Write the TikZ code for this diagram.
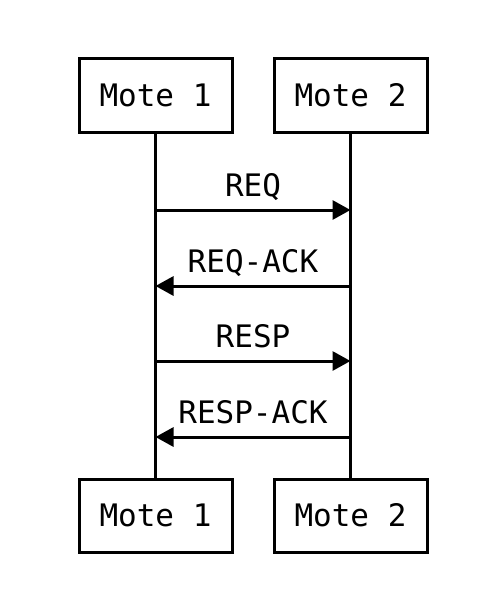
\documentclass[tikz,border=0pt]{standalone}
\usepackage{fontspec}
\usepackage{tikz}
\usetikzlibrary{arrows.meta}
\newfontfamily\motefont{DejaVu Sans Mono}

\tikzset{
  motebox/.style={draw=black,fill=white,line width=3pt,minimum width=153pt,minimum height=73pt,inner sep=0pt,font=\motefont\fontsize{31}{36}\selectfont},
  msglbl/.style={anchor=base,inner sep=0pt,font=\motefont\fontsize{31}{36}\selectfont},
  msg/.style={black,line width=3pt,-{Triangle[length=18pt,width=19pt]}}
}

\begin{document}
\begin{tikzpicture}[x=1pt,y=-1pt]
\useasboundingbox (0,0) rectangle (496,602);

\node[motebox] (m1top) at (155.5,95.5) {Mote 1};
\node[motebox] (m2top) at (350.5,95.5) {Mote 2};
\node[motebox] (m1bot) at (155.5,515.5) {Mote 1};
\node[motebox] (m2bot) at (350.5,515.5) {Mote 2};

% lifelines
\draw [black, line width = 3pt] (m1top) -- (m1bot);
\draw [black, line width = 3pt] (m2top) -- (m2bot);

\coordinate (req1) at (155.5,210);
\coordinate (req2) at (350.5,210);
\coordinate (ack1) at (155.5,286);
\coordinate (ack2) at (350.5,286);
\coordinate (rsp1) at (155.5,361);
\coordinate (rsp2) at (350.5,361);
\coordinate (rak1) at (155.5,437);
\coordinate (rak2) at (350.5,437);

\draw [msg] (req1) -- (req2);
\draw node[msglbl] (reqlbl) at (253,196) {REQ};
\draw [msg] (ack2) -- (ack1);
\draw node[msglbl] (acklbl) at (253,272) {REQ-ACK};
\draw [msg] (rsp1) -- (rsp2);
\draw node[msglbl] (rsplbl) at (253,347) {RESP};
\draw [msg] (rak2) -- (rak1);
\draw node[msglbl] (raklbl) at (253,423) {RESP-ACK};

\end{tikzpicture}
\end{document}
